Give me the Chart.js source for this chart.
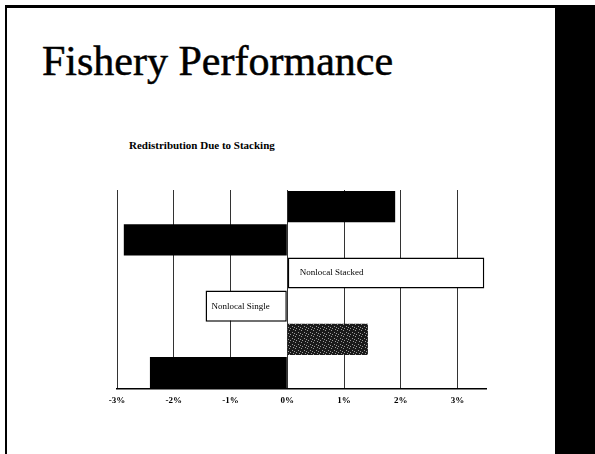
<!DOCTYPE html>
<html>
<head>
<meta charset="utf-8">
<script src="https://cdn.jsdelivr.net/npm/chart.js@4/dist/chart.umd.min.js"></script>
<style>
  html, body { margin: 0; padding: 0; background: #fff; }
  #slide { position: relative; width: 595px; height: 454px; overflow: hidden; background: #fff; }
  #frameTop { position: absolute; left: 5px; top: 5px; width: 590px; height: 3px; background: #000; }
  #frameLeft { position: absolute; left: 5px; top: 5px; width: 2px; height: 449px; background: #000; }
  #sideBlock { position: absolute; left: 555px; top: 5px; width: 40px; height: 449px; background: #000; }
  #heading { position: absolute; left: 42px; top: 40px; font: 42px/42px "Liberation Serif", serif; color: #000; white-space: nowrap; -webkit-text-stroke: 0.5px #000; }
  #subtitle { position: absolute; left: 129px; top: 140px; font: bold 11px/11px "Liberation Serif", serif; color: #000; white-space: nowrap; }
  #Chart { position: absolute; left: 0; top: 0; }
</style>
</head>
<body>
<div id="slide">
  <div id="frameTop"></div>
  <div id="frameLeft"></div>
  <div id="sideBlock"></div>
  <div id="heading">Fishery Performance</div>
  <div id="subtitle">Redistribution Due to Stacking</div>
  <canvas id="Chart" width="555" height="454"></canvas>
</div>
<script>
// one bar per row, top to bottom (values in %)
let categories = ['', '', 'Nonlocal Stacked', 'Nonlocal Single', '', ''];
let redistribution = [1.9, -2.88, 3.47, -1.44, 1.42, -2.42];
let tickValues = [-3, -2, -1, 0, 1, 2, 3];

// speckled dark fill for the fifth bar
function speckle() {
    let c = document.createElement('canvas');
    c.width = 6;
    c.height = 6;
    let g = c.getContext('2d');
    g.fillStyle = '#1a1a1a';
    g.fillRect(0, 0, 6, 6);
    g.fillStyle = '#9a9a9a';
    [[1, 0], [4, 2], [2, 4], [5, 5], [0, 3]].forEach(function (p) {
        g.fillRect(p[0], p[1], 1, 1);
    });
    return g.createPattern(c, 'repeat');
}

let barLabels = {
    id: 'barLabels',
    afterDatasetsDraw: function (chart) {
        let ctx = chart.ctx;
        let meta = chart.getDatasetMeta(0);
        ctx.save();
        ctx.font = '9px "Liberation Serif", serif';
        ctx.fillStyle = '#000';
        ctx.textBaseline = 'middle';
        meta.data.forEach(function (bar, i) {
            if (!categories[i]) return;
            let left = Math.min(bar.x, bar.base);
            let pad = redistribution[i] > 0 ? 12 : 6;
            ctx.fillText(categories[i], left + pad, bar.y);
        });
        ctx.restore();
    }
};

let pattern = speckle();
let fills = ['#000', '#000', '#fff', '#fff', pattern, '#000'];
let borders = [0, 0, 1.5, 1.5, 0, 0];

let config = {
    type: 'bar',
    data: {
        labels: categories,
        datasets: [{
            data: redistribution,
            backgroundColor: fills,
            borderColor: '#000',
            borderWidth: borders,
            borderSkipped: false,
            categoryPercentage: 1,
            barPercentage: 0.94
        }]
    },
    options: {
        indexAxis: 'y',
        responsive: false,
        animation: false,
        layout: { padding: { left: 117, right: 69, top: 190, bottom: 42 } },
        plugins: {
            legend: { display: false },
            tooltip: { enabled: false }
        },
        scales: {
            x: {
                min: -3,
                max: 3.5,
                afterBuildTicks: function (axis) {
                    axis.ticks = tickValues.map(function (v) { return { value: v }; });
                },
                grid: { color: '#333', lineWidth: 1, drawTicks: false },
                border: { display: true, color: '#000', width: 1.5 },
                ticks: {
                    padding: 6,
                    color: '#000',
                    font: { family: '"Liberation Serif", serif', size: 9, weight: 'bold' },
                    callback: function (v) { return v + '%'; }
                }
            },
            y: {
                display: false
            }
        }
    },
    plugins: [barLabels]
};

window.onload = function () {
    let ctx = document.getElementById('Chart').getContext('2d');
    window.myBar = new Chart(ctx, config);
};
</script>
</body>
</html>
